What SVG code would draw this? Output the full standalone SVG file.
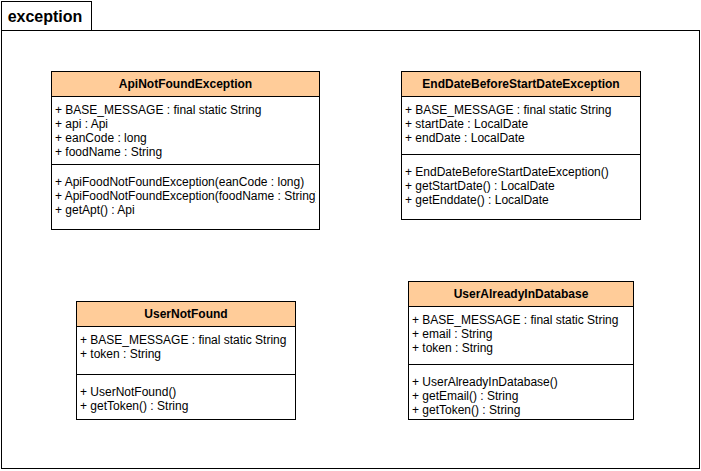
<svg xmlns="http://www.w3.org/2000/svg" width="701" height="471" viewBox="0 0 701 471">
<style>
.frame{fill:#fff;stroke:#000;stroke-width:1}
.hdr{fill:#ffcc99;stroke:#000;stroke-width:1}
.body{fill:#fff;stroke:#000;stroke-width:1}
.sep{stroke:#000;stroke-width:1}
.t{font-family:"Liberation Sans",Arial,sans-serif;font-size:12px;fill:#000}
.ti{font-family:"Liberation Sans",Arial,sans-serif;font-size:12px;font-weight:bold;fill:#000;text-anchor:middle}
.pk{font-family:"Liberation Sans",Arial,sans-serif;font-size:16px;font-weight:bold;fill:#000;text-anchor:middle}
</style>
<defs>
<clipPath id="clipApi"><rect x="51" y="71" width="265" height="159"/></clipPath>
</defs>
<rect width="701" height="471" fill="#fff"/>
<g id="package">
<rect class="frame" x="1.5" y="30.5" width="698" height="438"/>
<rect class="frame" x="1.5" y="1.5" width="90" height="29"/>
<text class="pk" x="45" y="22">exception</text>
</g>
<g id="connectors"></g>
<g id="ApiNotFoundException">
<rect class="body" x="51.5" y="71.5" width="268" height="158"/>
<rect class="hdr" x="51.5" y="71.5" width="268" height="25"/>
<text class="ti" x="185.5" y="88">ApiNotFoundException</text>
<line class="sep" x1="51" y1="164.5" x2="320" y2="164.5"/>
<g clip-path="url(#clipApi)">
<text class="t" x="55" y="114">+ BASE_MESSAGE : final static String</text>
<text class="t" x="55" y="128">+ api : Api</text>
<text class="t" x="55" y="142">+ eanCode : long</text>
<text class="t" x="55" y="156">+ foodName : String</text>
<text class="t" x="55" y="186">+ ApiFoodNotFoundException(eanCode : long)</text>
<text class="t" x="55" y="200">+ ApiFoodNotFoundException(foodName : String)</text>
<text class="t" x="55" y="214">+ getApt() : Api</text>
</g>
</g>
<g id="EndDateBeforeStartDateException">
<rect class="body" x="401.5" y="71.5" width="239" height="148"/>
<rect class="hdr" x="401.5" y="71.5" width="239" height="25"/>
<text class="ti" x="521" y="88">EndDateBeforeStartDateException</text>
<text class="t" x="405" y="114">+ BASE_MESSAGE : final static String</text>
<text class="t" x="405" y="128">+ startDate : LocalDate</text>
<text class="t" x="405" y="142">+ endDate : LocalDate</text>
<line class="sep" x1="401" y1="154.5" x2="641" y2="154.5"/>
<text class="t" x="405" y="176">+ EndDateBeforeStartDateException()</text>
<text class="t" x="405" y="190">+ getStartDate() : LocalDate</text>
<text class="t" x="405" y="204">+ getEnddate() : LocalDate</text>
</g>
<g id="UserNotFound">
<rect class="body" x="76.5" y="301.5" width="219" height="118"/>
<rect class="hdr" x="76.5" y="301.5" width="219" height="25"/>
<text class="ti" x="186" y="318">UserNotFound</text>
<text class="t" x="80" y="344">+ BASE_MESSAGE : final static String</text>
<text class="t" x="80" y="358">+ token : String</text>
<line class="sep" x1="76" y1="374.5" x2="296" y2="374.5"/>
<text class="t" x="80" y="396">+ UserNotFound()</text>
<text class="t" x="80" y="410">+ getToken() : String</text>
</g>
<g id="UserAlreadyInDatabase">
<rect class="body" x="408.5" y="281.5" width="225" height="138"/>
<rect class="hdr" x="408.5" y="281.5" width="225" height="25"/>
<text class="ti" x="521" y="298">UserAlreadyInDatabase</text>
<text class="t" x="412" y="324">+ BASE_MESSAGE : final static String</text>
<text class="t" x="412" y="338">+ email : String</text>
<text class="t" x="412" y="352">+ token : String</text>
<line class="sep" x1="408" y1="364.5" x2="634" y2="364.5"/>
<text class="t" x="412" y="386">+ UserAlreadyInDatabase()</text>
<text class="t" x="412" y="400">+ getEmail() : String</text>
<text class="t" x="412" y="414">+ getToken() : String</text>
</g>
</svg>
